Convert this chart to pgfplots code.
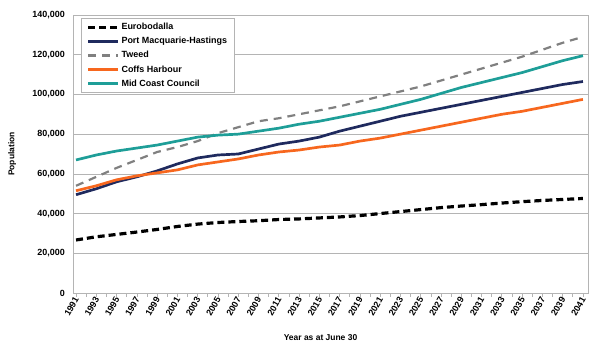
\documentclass[border=0pt]{standalone}
\usepackage{pgfplots}
\pgfplotsset{compat=1.18}
\usepackage{fontspec}
\setmainfont{Liberation Sans}
\definecolor{navyc}{HTML}{1F2A5E}
\definecolor{tweedc}{HTML}{808080}
\definecolor{coffsc}{HTML}{F7671E}
\definecolor{midc}{HTML}{1E9E98}
\definecolor{gridc}{HTML}{B4B4B4}
\begin{document}
\begin{tikzpicture}
\useasboundingbox (0,0) rectangle (600bp,353bp);
\begin{axis}[
  at={(73bp,60bp)}, anchor=south west,
  scale only axis, width=515bp, height=278bp,
  xmin=1990.7, xmax=2041.5, ymin=0, ymax=140000,
  xtick={1991,1993,...,2041},
  minor x tick num=1,
  ytick={0,20000,...,140000},
  scaled y ticks=false,
  yticklabel style={/pgf/number format/fixed, /pgf/number format/1000 sep={,}, inner sep=2pt, xshift=-2bp},
  xticklabel style={/pgf/number format/1000 sep={}, rotate=60, anchor=east, inner sep=0.5pt, yshift=-1bp},
  /pgf/number format/assume math mode=true,
  ymajorgrids, major grid style={gridc, line width=0.7pt},
  axis line style={gridc, line width=0.9pt},
  tick style={gridc, line width=0.7pt},
  major tick length=4bp, minor tick length=4bp,
  tick align=outside,
  xtick pos=bottom, ytick pos=left,
  ytick style={draw=none},
  tick label style={font=\fontsize{9}{10}\selectfont\bfseries},
  xlabel={Year as at June 30},
  ylabel={Population},
  label style={font=\fontsize{8.5}{9}\selectfont\bfseries},
  xlabel style={at={(axis description cs:0.5,0)}, anchor=center, yshift=-45bp, xshift=-10bp},
  ylabel style={at={(axis description cs:-0.118,0.5)}, anchor=center, rotate=0},
  legend style={at={(axis description cs:0.016,0.99)}, anchor=north west,
    draw=gridc, line width=0.7pt, font=\fontsize{9}{10}\selectfont\bfseries,
    inner xsep=5bp, inner ysep=3bp, row sep=2.2pt, cells={anchor=west}},
  legend image code/.code={\draw[#1] (0cm,0cm) -- (1.05cm,0cm);},
]
\addplot[black, line width=3.2pt, dash pattern=on 7pt off 4pt] coordinates {
(1991,26700)(1993,28300)(1995,29500)(1997,30700)(1999,32000)(2001,33500)(2003,34700)(2005,35500)(2007,36000)(2009,36400)(2011,37000)(2013,37300)(2015,37800)(2017,38300)(2019,39000)(2021,40000)(2023,41000)(2025,42000)(2027,43000)(2029,43800)(2031,44500)(2033,45300)(2035,46000)(2037,46600)(2039,47100)(2041,47600)};
\addlegendentry{Eurobodalla}
\addplot[navyc, line width=2.7pt] coordinates {
(1991,49500)(1993,52500)(1995,56000)(1997,58500)(1999,61500)(2001,65000)(2003,68000)(2005,69500)(2007,70000)(2009,72500)(2011,75000)(2013,76500)(2015,78500)(2017,81500)(2019,84000)(2021,86500)(2023,89000)(2025,91000)(2027,93000)(2029,95000)(2031,97000)(2033,99000)(2035,101000)(2037,103000)(2039,105000)(2041,106500)};
\addlegendentry{Port Macquarie-Hastings}
\addplot[tweedc, line width=2.2pt, dash pattern=on 8pt off 6pt] coordinates {
(1991,54000)(1993,58500)(1995,63000)(1997,67000)(1999,71000)(2001,73500)(2003,76500)(2005,80500)(2007,83500)(2009,86500)(2011,88000)(2013,90000)(2015,92000)(2017,94000)(2019,96500)(2021,99000)(2023,101500)(2025,104000)(2027,107000)(2029,110000)(2031,113000)(2033,116000)(2035,119000)(2037,122500)(2039,126000)(2041,129000)};
\addlegendentry{Tweed}
\addplot[coffsc, line width=2.7pt] coordinates {
(1991,51500)(1993,54000)(1995,57000)(1997,59000)(1999,60500)(2001,62000)(2003,64500)(2005,66000)(2007,67500)(2009,69500)(2011,71000)(2013,72000)(2015,73500)(2017,74500)(2019,76500)(2021,78000)(2023,80000)(2025,82000)(2027,84000)(2029,86000)(2031,88000)(2033,90000)(2035,91500)(2037,93500)(2039,95500)(2041,97500)};
\addlegendentry{Coffs Harbour}
\addplot[midc, line width=2.7pt] coordinates {
(1991,67000)(1993,69500)(1995,71500)(1997,73000)(1999,74500)(2001,76500)(2003,78500)(2005,79500)(2007,80000)(2009,81500)(2011,83000)(2013,85000)(2015,86500)(2017,88500)(2019,90500)(2021,92500)(2023,95000)(2025,97500)(2027,100500)(2029,103500)(2031,106000)(2033,108500)(2035,111000)(2037,114000)(2039,117000)(2041,119500)};
\addlegendentry{Mid Coast Council}
\end{axis}
\end{tikzpicture}
\end{document}
